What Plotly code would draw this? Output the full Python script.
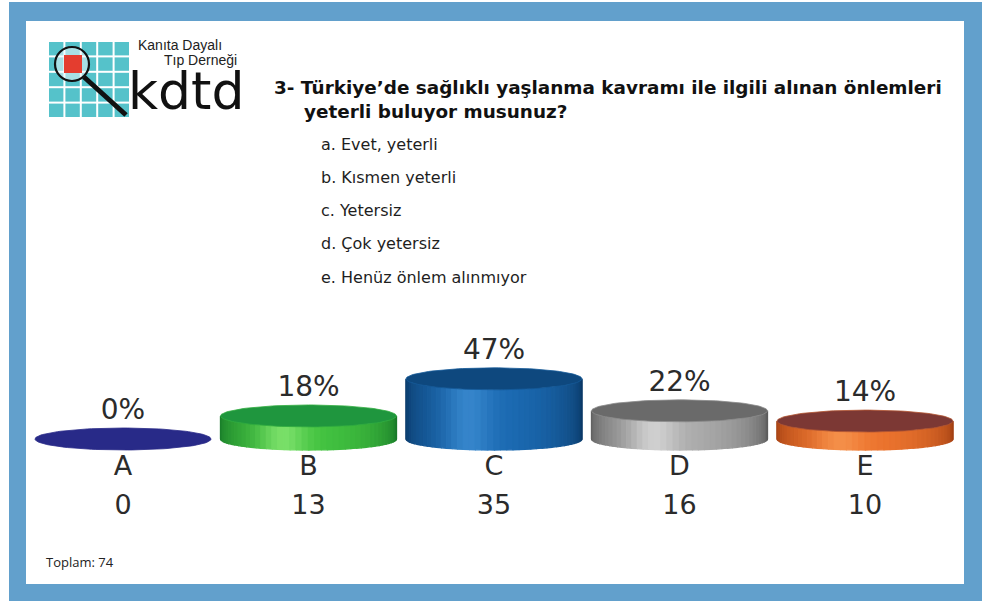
import numpy as np
import plotly.graph_objects as go

# ---- survey data ----
categories = ["A", "B", "C", "D", "E"]
percents = [0, 18, 47, 22, 14]
counts = [0, 13, 35, 16, 10]
total = 74

question_lines = [
    "3- Türkiye’de sağlıklı yaşlanma kavramı ile ilgili alınan önlemleri",
    "yeterli buluyor musunuz?",
]
options = [
    "a. Evet, yeterli",
    "b. Kısmen yeterli",
    "c. Yetersiz",
    "d. Çok yetersiz",
    "e. Henüz önlem alınmıyor",
]

# ---- styling ----
W, H = 992, 601
BORDER_BLUE = "#62a0cc"
# (edge, body, highlight, top) colours per cylinder
palettes = [
    ((30, 32, 110), (40, 42, 135), (60, 62, 160), (40, 42, 136)),
    ((22, 118, 40), (66, 194, 64), (140, 234, 118), (31, 150, 62)),
    ((10, 55, 100), (27, 106, 178), (62, 142, 212), (14, 72, 126)),
    ((88, 88, 88), (172, 172, 172), (220, 220, 220), (106, 106, 106)),
    ((160, 62, 18), (236, 116, 46), (248, 152, 82), (124, 56, 52)),
]

# pixel <-> data scale of the cylinder axes
X0_PX, PX_PER_X = 123.0, 185.5       # centre of first category, spacing
BASE_PX, PX_PER_PCT = 439.0, 1.28    # base line, pixels per percent
A_RX = 88.0 / PX_PER_X               # ellipse half-width (x units)
B_RY = 11.0 / PX_PER_PCT             # ellipse half-height (y units)


def rgb(c):
    return "rgb(%d,%d,%d)" % tuple(int(round(v)) for v in c)


def mix(c1, c2, t):
    return tuple(a + (b - a) * t for a, b in zip(c1, c2))


fig = go.Figure()

N_STRIPS = 44
for i, (cat, pct) in enumerate(zip(categories, percents)):
    cx = i
    h = pct
    edge, body, light, top = palettes[i]
    if h > 0:
        thetas = np.linspace(np.pi, 0, N_STRIPS + 1)
        for k in range(N_STRIPS):
            th = np.linspace(thetas[k], thetas[k + 1], 4)
            xs = cx + A_RX * np.cos(th)
            yb = -B_RY * np.sin(th)
            yt = h - B_RY * np.sin(th)
            px = np.concatenate([xs, xs[::-1], xs[:1]])
            py = np.concatenate([yb, yt[::-1], yb[:1]])
            tm = 0.5 * (1 - np.cos(0.5 * (thetas[k] + thetas[k + 1])))
            s = np.sin(np.pi * tm) ** 0.45
            col = mix(edge, body, s)
            hl = np.exp(-((tm - 0.64) / 0.13) ** 2)
            col = mix(col, light, 0.75 * hl)
            fig.add_trace(go.Scatter(
                x=px, y=py, mode="lines", fill="toself",
                fillcolor=rgb(col), line=dict(color=rgb(col), width=1.3),
                hoverinfo="skip", showlegend=False))
    th = np.linspace(0, 2 * np.pi, 121)
    fig.add_trace(go.Scatter(
        x=cx + A_RX * np.cos(th), y=h + B_RY * np.sin(th),
        mode="lines", fill="toself", fillcolor=rgb(top),
        line=dict(color=rgb(mix(top, body, 0.5)), width=0.8),
        hoverinfo="skip", showlegend=False))

xs = list(range(len(categories)))
TXT = "#2b2b2b"
fig.add_trace(go.Scatter(
    x=xs, y=[p + 27.0 / PX_PER_PCT for p in percents],
    mode="text", text=[f"{p}%" for p in percents],
    textfont=dict(family="DejaVu Sans", size=28, color=TXT),
    hoverinfo="skip", showlegend=False))
fig.add_trace(go.Scatter(
    x=xs, y=[-(468 - BASE_PX) / PX_PER_PCT] * len(xs),
    mode="text", text=categories,
    textfont=dict(family="DejaVu Sans", size=27, color=TXT),
    hoverinfo="skip", showlegend=False))
fig.add_trace(go.Scatter(
    x=xs, y=[-(507 - BASE_PX) / PX_PER_PCT] * len(xs),
    mode="text", text=[str(c) for c in counts],
    textfont=dict(family="DejaVu Sans", size=27, color=TXT),
    hoverinfo="skip", showlegend=False))


def pxx(x):
    return x / W


def pxy(y):
    return 1 - y / H


shapes = [
    dict(type="rect", xref="paper", yref="paper", layer="below",
         x0=pxx(9), x1=pxx(982), y0=pxy(601), y1=pxy(2),
         fillcolor=BORDER_BLUE, line=dict(width=0)),
    dict(type="rect", xref="paper", yref="paper", layer="below",
         x0=pxx(26), x1=pxx(964), y0=pxy(584), y1=pxy(21),
         fillcolor="#ffffff", line=dict(width=0)),
]

# logo: teal grid with a magnifying glass
gx0, gy0, cw, ch = 48.0, 41.0, 16.4, 15.4
for r in range(5):
    for c in range(5):
        shapes.append(dict(
            type="rect", xref="paper", yref="paper", layer="below",
            x0=pxx(gx0 + c * cw + 1), x1=pxx(gx0 + (c + 1) * cw - 1),
            y0=pxy(gy0 + (r + 1) * ch - 1), y1=pxy(gy0 + r * ch + 1),
            fillcolor="#55c2ca", line=dict(width=0)))
shapes += [
    dict(type="line", xref="paper", yref="paper", layer="below",
         x0=pxx(84), y0=pxy(77), x1=pxx(126), y1=pxy(115),
         line=dict(color="#111111", width=5)),
    dict(type="circle", xref="paper", yref="paper", layer="below",
         x0=pxx(55), x1=pxx(89), y0=pxy(81), y1=pxy(47),
         fillcolor="rgba(235,250,252,0.55)", line=dict(width=0)),
    dict(type="rect", xref="paper", yref="paper", layer="below",
         x0=pxx(64), x1=pxx(82), y0=pxy(73), y1=pxy(55),
         fillcolor="#e43d2f", line=dict(width=0)),
    dict(type="circle", xref="paper", yref="paper", layer="below",
         x0=pxx(55), x1=pxx(89), y0=pxy(81), y1=pxy(47),
         fillcolor="rgba(0,0,0,0)", line=dict(color="#111111", width=2.2)),
]

annotations = []


def label(text, x, y, size, family="Liberation Sans", color="#1a1a1a", bold=False):
    annotations.append(dict(
        text=f"<b>{text}</b>" if bold else text,
        x=pxx(x), y=pxy(y), xref="paper", yref="paper",
        xanchor="left", yanchor="middle", showarrow=False,
        font=dict(family=family, size=size, color=color)))


label("kdtd", 126, 91, 52, family="DejaVu Sans", color="#111111")
label("Kanıta Dayalı", 136, 45, 14, color="#222222")
label("Tıp Derneği", 162, 60, 14, color="#222222")
label(question_lines[0], 272, 88, 18.4, family="DejaVu Sans", color="#111111", bold=True)
label(question_lines[1], 302, 111, 18.4, family="DejaVu Sans", color="#111111", bold=True)
for k, opt in enumerate(options):
    label(opt, 319, 144 + k * 33.3, 16, family="DejaVu Sans", color="#1e1e1e")
label(f"Toplam: {total}", 44, 562, 13, family="Open Sans", color="#222222")

fig.update_layout(
    width=W, height=H,
    margin=dict(l=0, r=0, t=0, b=0),
    paper_bgcolor="#ffffff", plot_bgcolor="rgba(0,0,0,0)",
    xaxis=dict(range=[-X0_PX / PX_PER_X, (W - X0_PX) / PX_PER_X],
               visible=False, fixedrange=True),
    yaxis=dict(range=[-(H - BASE_PX) / PX_PER_PCT, BASE_PX / PX_PER_PCT],
               visible=False, fixedrange=True),
    shapes=shapes, annotations=annotations, showlegend=False,
)

fig.write_html("out.html")
